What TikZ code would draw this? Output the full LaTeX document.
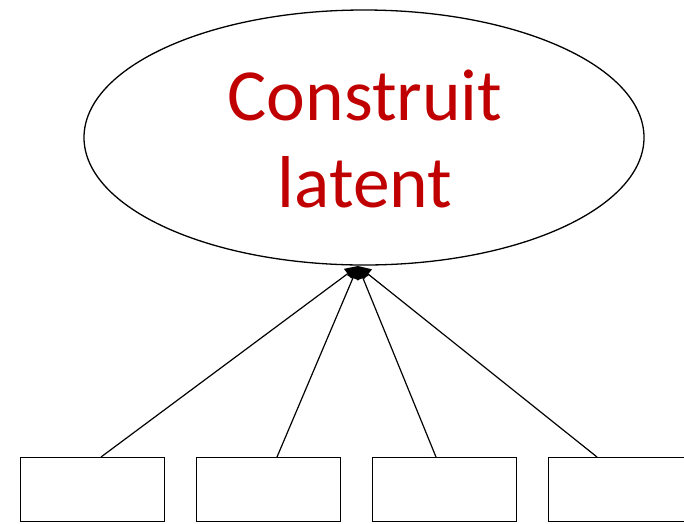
\documentclass[tikz,border=0pt]{standalone}
\usepackage{fontspec}
\setmainfont{Carlito}
\usetikzlibrary{arrows.meta,shapes.geometric}
\definecolor{txtred}{RGB}{192,0,0}
\tikzset{
  obsbox/.style={draw,line width=1.3pt,minimum width=144pt,minimum height=64pt,inner sep=0pt,anchor=north west},
  link/.style={line width=1.2pt,-{Triangle[length=13pt,width=12pt]}}
}
\begin{document}
\begin{tikzpicture}[x=1pt,y=-1pt]
\useasboundingbox (0,0) rectangle (684,523);
\node[draw,ellipse,line width=1.3pt,minimum width=560pt,minimum height=255pt,inner sep=0pt] (ell) at (364,137.5) {};
\node[text=txtred,font=\fontsize{73.5}{87}\selectfont,align=center] (lbl) at (365,139) {Construit\\latent};
\node[obsbox] (b1) at (20,457) {};
\node[obsbox] (b2) at (196,457) {};
\node[obsbox] (b3) at (372,457) {};
\node[obsbox] (b4) at (548,457) {};
\coordinate (t1) at (101,457);
\coordinate (t2) at (277,457);
\coordinate (t3) at (436,457);
\coordinate (t4) at (597,457);
\coordinate (tgt) at (358,266);
\draw[link] (t1) -- (tgt);
\draw[link] (t2) -- (tgt);
\draw[link] (t3) -- (tgt);
\draw[link] (t4) -- (tgt);
\end{tikzpicture}
\end{document}
